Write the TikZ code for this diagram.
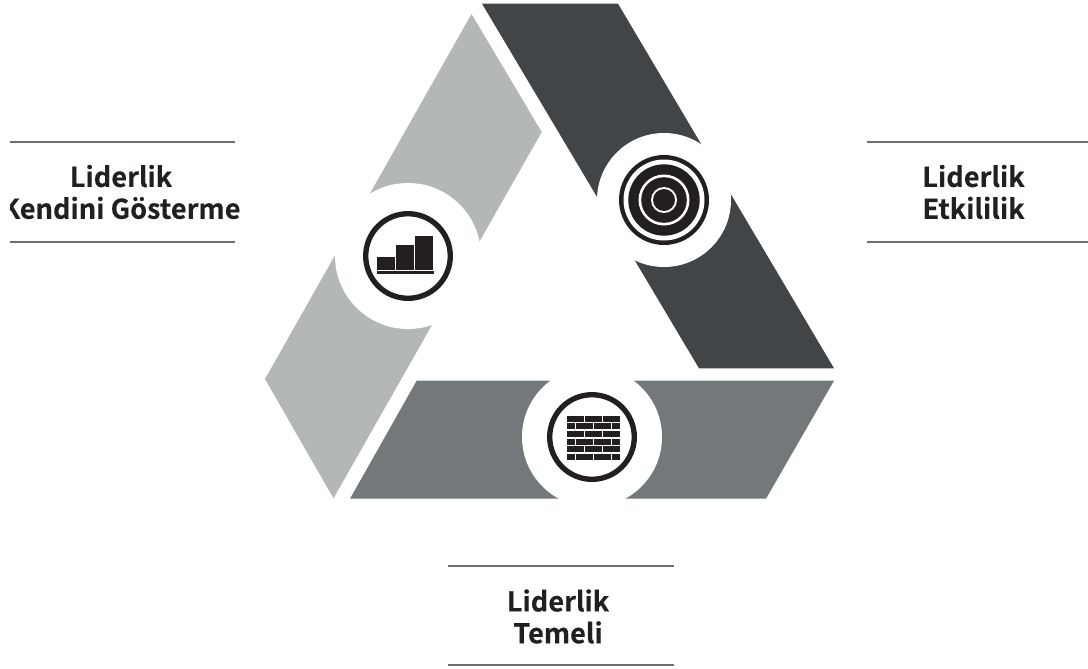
\documentclass[tikz,border=0pt]{standalone}
\usepackage{fontspec}
\usepackage{xcolor}
\setmainfont{Noto Sans CJK JP}[BoldFont={Noto Sans CJK JP Bold},BoldFeatures={FakeBold=0.25}]
\definecolor{darkband}{HTML}{414547}
\definecolor{midband}{HTML}{73787A}
\definecolor{lightband}{HTML}{B3B7B7}
\definecolor{iconblack}{HTML}{231F20}
\definecolor{rulegrey}{HTML}{6D6E71}
\tikzset{
  hole/.style={fill=white},
  ring/.style={draw=iconblack,line width=4pt,fill=white},
  icon/.style={fill=iconblack},
  rulebar/.style={draw=rulegrey,line width=0.9pt},
  title/.style={font=\bfseries\fontsize{20.4}{23.9}\selectfont,text=iconblack,align=center,inner sep=0pt}
}

\begin{document}
\begin{tikzpicture}[x=0.75pt,y=-0.75pt]
\useasboundingbox (0,0) rectangle (1088,668);

\fill[darkband] (482,3.7) -- (618,3.7) -- (834,368.3) -- (699,368.3) -- cycle;
\fill[lightband] (471.5,14) -- (541.7,132) -- (333.5,498.3) -- (265,379) -- cycle;
\fill[midband] (416.7,380.7) -- (834,380.7) -- (766,498.7) -- (350,498.7) -- cycle;

\fill[hole] (664,200) circle (67);
\fill[hole] (408,256) circle (73);
\fill[hole] (592,437) circle (70);

% target
\fill[icon] (664,200) circle (45);
\fill[white] (664,200) circle (40.5);
\fill[icon] (664,200) circle (35.7);
\fill[white] (664,200) circle (25.5);
\fill[icon] (664,200) circle (22.8);
\fill[white] (664,200) circle (13);
\fill[icon] (664,200) circle (11);

% bars
\draw[ring] (408,256) circle (42.3);
\fill[icon] (377,271) rectangle (434,274);
\fill[icon] (377,257) rectangle (395,270);
\fill[icon] (396,245) rectangle (414,270);
\fill[icon] (415,236) rectangle (433,270);

% bricks
\draw[ring] (592,437) circle (42.3);
\foreach \y in {416,431,446.2} {
  \fill[icon] (567,\y) rectangle (584,\y+5.8);
  \fill[icon] (585,\y) rectangle (602,\y+5.8);
  \fill[icon] (603,\y) rectangle (620,\y+5.8);
}
\foreach \y in {423,439,454} {
  \fill[icon] (567,\y) rectangle (575,\y+5.8);
  \fill[icon] (576,\y) rectangle (593,\y+5.8);
  \fill[icon] (594,\y) rectangle (611,\y+5.8);
  \fill[icon] (612,\y) rectangle (620,\y+5.8);
}

% left label
\draw[rulebar] (10,142) -- (235,142);
\draw[rulebar] (10,242) -- (235,242);
\begin{scope}
\clip (10,130) rectangle (260,250);
\node[title] (kendini) at (121,192) {Liderlik\\Kendini Gösterme};
\end{scope}

% right label
\draw[rulebar] (867,142) -- (1088,142);
\draw[rulebar] (867,242) -- (1088,242);
\node[title] (etkililik) at (973.5,192) {Liderlik\\Etkililik};

% bottom label
\draw[rulebar] (448,566) -- (674,566);
\draw[rulebar] (448,665) -- (674,665);
\node[title] (temeli) at (558,616.5) {Liderlik\\Temeli};

\end{tikzpicture}
\end{document}
